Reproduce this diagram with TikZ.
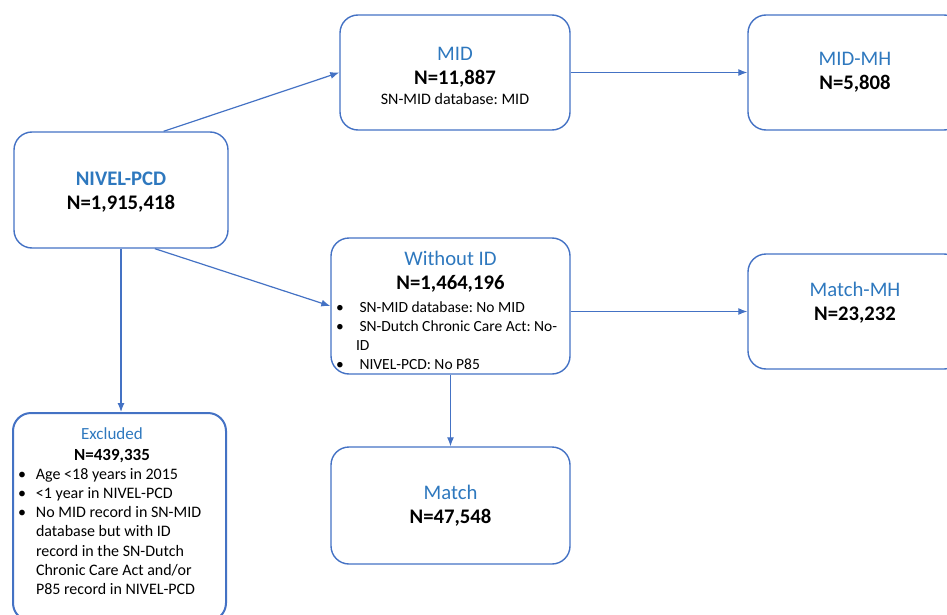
\documentclass[tikz,border=0pt]{standalone}
\usepackage{fontspec}
\setmainfont{Carlito}
\usetikzlibrary{arrows.meta}

\definecolor{boxblue}{RGB}{68,114,196}
\definecolor{ttlblue}{RGB}{46,120,190}
\setlength{\parindent}{0pt}
\setlength{\parskip}{0pt}
\newcommand{\bigtxt}{\fontsize{20.7}{24.5}\selectfont}
\newcommand{\smltxt}{\fontsize{15.5}{19.2}\selectfont\raggedright}
\newcommand{\nsp}{\spaceskip=0pt\xspaceskip=0pt\frenchspacing}
\newcommand{\bul}[1][18pt]{\noindent\hangindent=#1\hangafter=1\makebox[#1][l]{\textbullet}}

\begin{document}
\begin{tikzpicture}[
            x=1pt, y=-1pt,
            bx/.style={draw=boxblue, line width=1.4pt, rounded corners=18pt,
                       inner xsep=5pt, inner ysep=4pt, align=center, font=\bigtxt},
            every edge/.style={draw=boxblue, line width=1.2pt, -{Latex[length=9pt,width=7pt]}}
        ]
        \useasboundingbox (0,0) rectangle (947,615);
        \clip (0,0) rectangle (947,615);

        % Source box
        \node[bx, text width=204, text height=49.4, text depth=58.6] (nivel) at (121,190)
            {\nsp{\color{ttlblue}\bfseries NIVEL-PCD\par}
             {\bfseries N=1,915,418\par}};

        % Top row
        \node[bx, text width=220, text height=41.4, text depth=65.6] (mid) at (455,72.5)
            {\nsp\centering{\color{ttlblue}MID\par}
             {\bfseries N=11,887\par}
             {\fontsize{16}{19.5}\selectfont SN-MID database: MID\par}};
        \node[bx, text width=204, minimum height=115] (midmh) at (855,72.5)
            {\nsp{\color{ttlblue}MID-MH\par}
             {\bfseries N=5,808\par}};

        % Middle row
        \node[bx, text width=229, text height=23.4, text depth=104.6, align=left] (without) at (450.5,306)
            {\nsp{\centering\color{ttlblue}Without ID\par}
             {\centering\bfseries N=1,464,196\par}
             \vspace{3pt}
             {\smltxt
              \bul[20pt] SN-MID database: No MID\par
              \bul[20pt] \mbox{SN-Dutch Chronic Care Act: No-}\hfill\break ID\par
              \bul[20pt] NIVEL-PCD: No P85\par}};
        \node[bx, text width=204, text height=38.4, text depth=68.6] (matchmh) at (855,311.5)
            {\nsp{\color{ttlblue}Match-MH\par}
             {\bfseries N=23,232\par}};

        % Bottom row
        \node[bx, anchor=north, text width=203, align=left, line width=2pt,
              inner ysep=14pt, text height=12, text depth=168] (excl) at (119.5,412)
            {\nsp{\centering\rightskip=15pt plus 1fil\fontsize{17}{21}\selectfont\color{ttlblue}Excluded\par}
             {\centering\rightskip=15pt plus 1fil\fontsize{17}{21}\selectfont\bfseries N=439,335\par}
             {\smltxt\fontsize{16}{19.2}\selectfont
              \bul Age <18 years in 2015\par
              \bul <1 year in NIVEL-PCD\par
              \bul No MID record in SN-MID\hfill\break database but with ID\hfill\break
                   record in the SN-Dutch\hfill\break Chronic Care Act and/or\hfill\break
                   P85 record in NIVEL-PCD\par}};
        \node[bx, text width=229, minimum height=117] (match) at (450.5,505.5)
            {\nsp{\color{ttlblue}Match\par}
             {\bfseries N=47,548\par}};

        % NIVEL-PCD -> groups
        \draw (nivel.54) edge (mid.west);
        \draw (nivel.-60) edge (without.west);
        \draw (nivel.south) edge (nivel.south |- excl.north);

        % groups -> MH
        \draw (mid.east) edge (midmh.west);
        \draw (matchmh.west -| without.east) edge (matchmh.west);
        \draw (without.south) edge (match.north);
    \end{tikzpicture}
\end{document}
